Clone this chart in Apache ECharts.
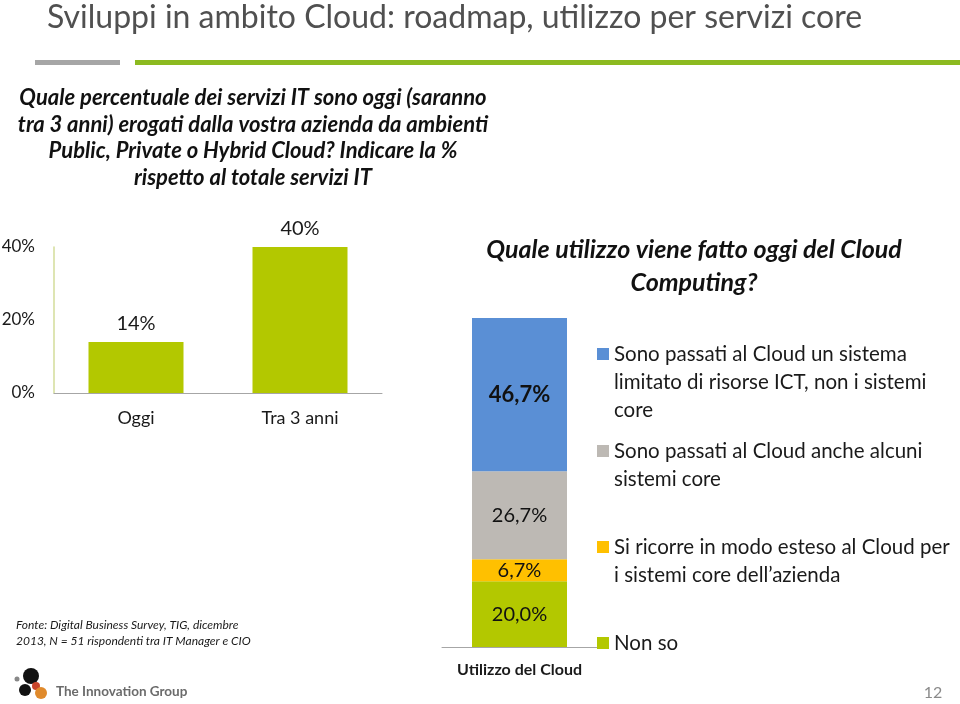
<!DOCTYPE html>
<html><head><meta charset="utf-8">
<script src="https://cdn.jsdelivr.net/npm/echarts@6/dist/echarts.min.js"></script>
<style>html,body{margin:0;padding:0;background:#fff}#c{width:960px;height:704px}</style>
</head><body><div id="c"></div>
<script>
// ---- data ----
const leftCategories = ['Oggi', 'Tra 3 anni'];
const leftValues = [14, 40];
const leftAxisMax = 40;
const leftAxisStep = 20;

const rightCategories = ['Utilizzo del Cloud'];
// stack order: bottom to top
const usageNames = [
  'Non so',
  'Si ricorre in modo esteso al Cloud per i sistemi core dell’azienda',
  'Sono passati al Cloud anche alcuni sistemi core',
  'Sono passati al Cloud un sistema limitato di risorse ICT, non i sistemi core'
];
const usageValues = [20.0, 6.7, 26.7, 46.7];
const usageLegendText = [
  'Non so',
  'Si ricorre in modo esteso al Cloud per\ni sistemi core dell’azienda',
  'Sono passati al Cloud anche alcuni\nsistemi core',
  'Sono passati al Cloud un sistema\nlimitato di risorse ICT, non i sistemi\ncore'
];

// ---- styles ----
const FONT = 'Lato';
const GREEN = '#b3c800';
const usageColors = ['#b3c800', '#ffc000', '#bdb9b4', '#5a8fd5'];
const legendCenters = [643, 547, 451, 354]; // icon centre y for each usage item
const LH = 28;

const chart = echarts.init(document.getElementById('c'), null, {renderer: 'canvas'});

const fmtPct = v => v.toFixed(1).replace('.', ',') + '%';

const usageSeries = usageNames.map((n, i) => ({
  name: n,
  type: 'bar',
  stack: 'usage',
  xAxisIndex: 1,
  yAxisIndex: 1,
  barWidth: 95,
  data: [usageValues[i]],
  itemStyle: {color: usageColors[i]},
  label: {
    show: true,
    position: 'inside',
    fontFamily: FONT,
    fontSize: i === 3 ? 22 : 20,
    fontWeight: i === 3 ? 'bold' : 'normal',
    color: '#111',
    formatter: p => fmtPct(p.value)
  },
  emphasis: {disabled: true}
}));

const legends = usageNames.map((n, i) => {
  const lines = usageLegendText[i].split('\n').length;
  const H = (2 * lines - 1) * LH;
  // blank lines on top keep the first text line level with the marker
  const txt = '\n'.repeat(lines - 1) + usageLegendText[i];
  return {
    data: [n],
    left: 597,
    top: legendCenters[i] - H / 2,
    padding: 0,
    orient: 'vertical',
    icon: 'rect',
    itemWidth: 12,
    itemHeight: 12,
    itemGap: 0,
    selectedMode: false,
    formatter: () => txt,
    textStyle: {
      fontFamily: FONT,
      fontSize: 20.5,
      color: '#1a1a1a',
      lineHeight: LH
    }
  };
});

const option = {
  backgroundColor: '#fff',
  animation: false,
  textStyle: {fontFamily: FONT},
  grid: [
    {left: 54, top: 247, width: 328, height: 146, outerBoundsMode: 'none'},
    {left: 442, top: 318, width: 155, height: 329, outerBoundsMode: 'none'}
  ],
  xAxis: [
    {
      type: 'category', gridIndex: 0, data: leftCategories,
      axisLine: {lineStyle: {color: '#a6a6a6', width: 1}},
      axisTick: {show: false},
      axisLabel: {fontFamily: FONT, fontSize: 18, color: '#1a1a1a', margin: 16}
    },
    {
      type: 'category', gridIndex: 1, data: rightCategories,
      axisLine: {lineStyle: {color: '#a6a6a6', width: 1}},
      axisTick: {show: false},
      axisLabel: {fontFamily: FONT, fontSize: 16, fontWeight: 'bold', color: '#1a1a1a', margin: 15}
    }
  ],
  yAxis: [
    {
      type: 'value', gridIndex: 0, min: 0, max: leftAxisMax, interval: leftAxisStep,
      axisLine: {show: true, lineStyle: {color: '#d3dd9a', width: 1.5}},
      axisTick: {show: false},
      splitLine: {show: false},
      axisLabel: {fontFamily: FONT, fontSize: 17, color: '#1a1a1a', margin: 19, formatter: '{value}%'}
    },
    {
      type: 'value', gridIndex: 1, min: 0, max: 100, show: false
    }
  ],
  legend: legends,
  series: [
    {
      type: 'bar',
      xAxisIndex: 0, yAxisIndex: 0,
      barWidth: 95,
      data: leftValues,
      itemStyle: {color: GREEN},
      label: {show: true, position: 'top', distance: 8, fontFamily: FONT, fontSize: 20, color: '#1a1a1a', formatter: '{c}%'},
      emphasis: {disabled: true}
    },
    ...usageSeries
  ],
  graphic: [
    {type: 'text', left: 47, top: 2, style: {text: 'Sviluppi in ambito Cloud: roadmap, utilizzo per servizi core', font: '32px Lato', fill: '#505050'}},
    {type: 'rect', shape: {x: 35, y: 60, width: 85, height: 5}, style: {fill: '#a6a6a6'}},
    {type: 'rect', shape: {x: 135, y: 60, width: 825, height: 5}, style: {fill: '#8cba20'}},
    {type: 'text', x: 253, y: 85, style: {
      text: 'Quale percentuale dei servizi IT sono oggi (saranno\ntra 3 anni) erogati dalla vostra azienda da ambienti\nPublic, Private o Hybrid Cloud? Indicare la %\nrispetto al totale servizi IT',
      font: 'italic bold 22px Lato', fill: '#111', align: 'center', lineHeight: 26.5}},
    {type: 'text', x: 694, y: 233, style: {
      text: 'Quale utilizzo viene fatto oggi del Cloud\nComputing?',
      font: 'italic bold 25px Lato', fill: '#111', align: 'center', lineHeight: 33}},
    {type: 'text', x: 16, y: 617, style: {
      text: 'Fonte: Digital Business Survey, TIG, dicembre\n2013, N = 51 rispondenti tra IT Manager e CIO',
      font: 'italic 12px Lato', fill: '#1a1a1a', lineHeight: 16}},
    {type: 'text', x: 56, y: 685, style: {text: 'The Innovation Group', font: 'bold 13.5px Lato', fill: '#6b6b6b'}},
    {type: 'text', x: 933, y: 685, style: {text: '12', font: '16px Lato', fill: '#8a8a8a', align: 'center'}},
    // logo approximation
    {type: 'circle', shape: {cx: 31, cy: 676, r: 8}, style: {fill: '#111'}},
    {type: 'circle', shape: {cx: 25, cy: 690, r: 6}, style: {fill: '#111'}},
    {type: 'circle', shape: {cx: 36, cy: 686, r: 4}, style: {fill: '#c8442a'}},
    {type: 'circle', shape: {cx: 41, cy: 693, r: 6}, style: {fill: '#e08a2c'}},
    {type: 'circle', shape: {cx: 17, cy: 679, r: 2.5}, style: {fill: '#888'}}
  ]
};
chart.setOption(option);
</script>
</body></html>
